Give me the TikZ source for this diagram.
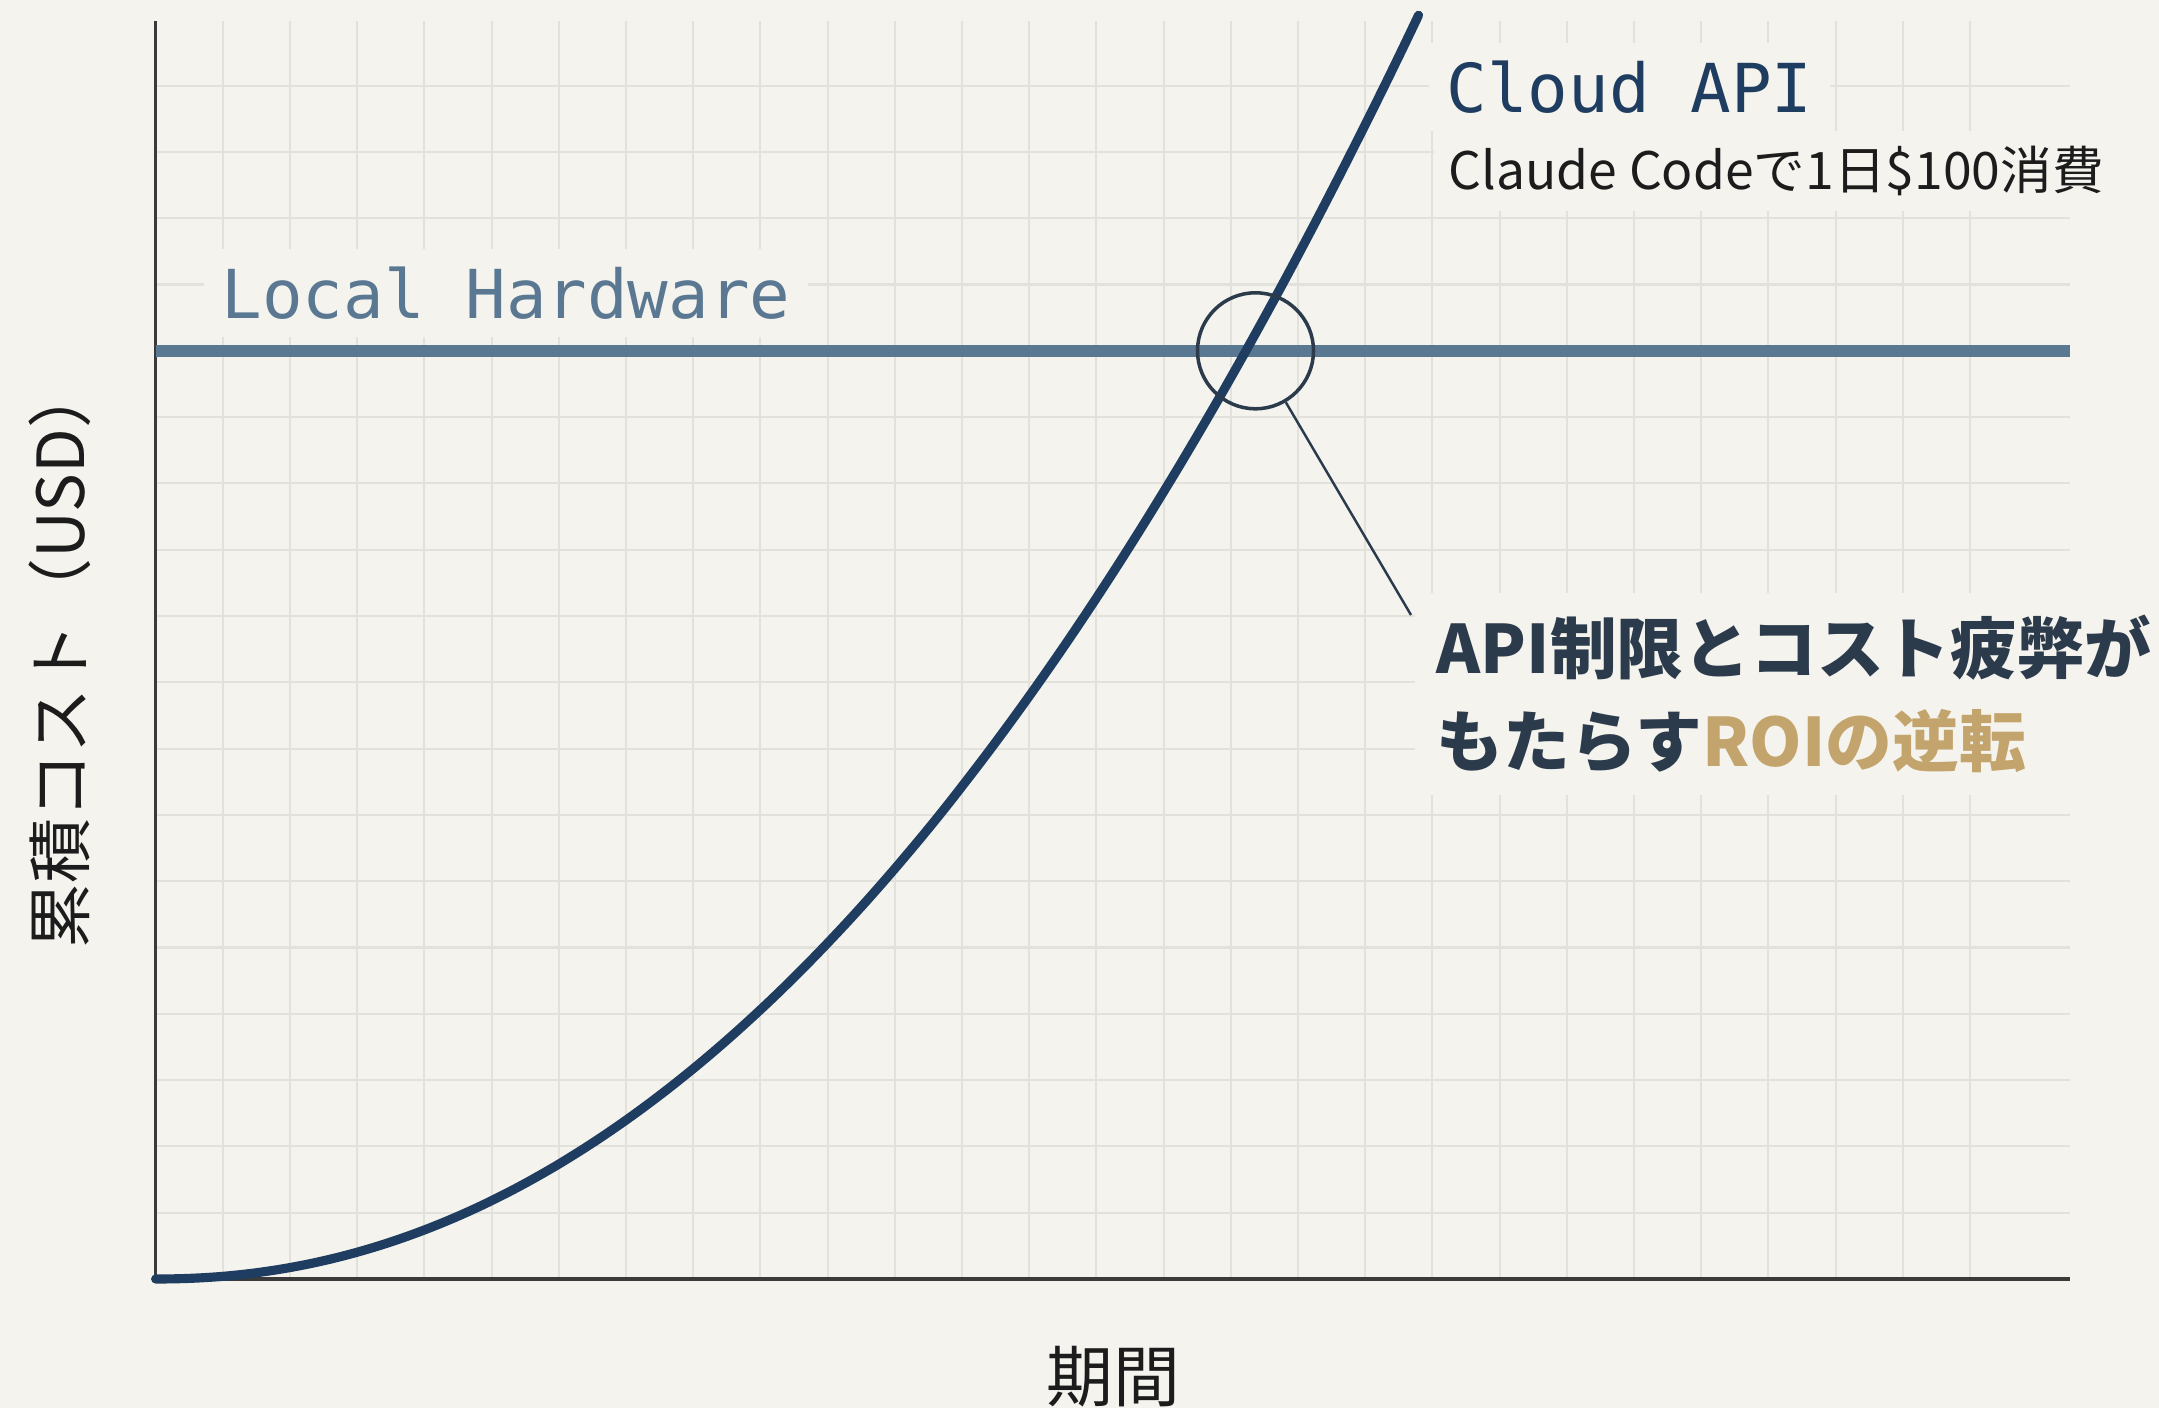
\documentclass[tikz,border=0pt]{standalone}
\usepackage{fontspec}
\setmainfont{Noto Sans CJK JP}
\newfontfamily\monofont{DejaVu Sans Mono}
\usepackage{xcolor}
\usetikzlibrary{positioning,calc}

\definecolor{paper}{HTML}{F4F3EE}
\definecolor{gridc}{HTML}{E3E1DB}
\definecolor{axisc}{HTML}{3A3A3A}
\definecolor{hwblue}{HTML}{5A7892}
\definecolor{cloudblue}{HTML}{1F3D60}
\definecolor{slate}{HTML}{2C3B4C}
\definecolor{gold}{HTML}{C3A46C}
\definecolor{ink}{HTML}{1C1C1C}

\begin{document}
\begin{tikzpicture}[
    gridline/.style={gridc, line width=0.6pt},
    axisline/.style={axisc, line width=1pt},
    hwline/.style={hwblue, line width=3.3pt},
    cloudline/.style={cloudblue, line width=2.6pt, line cap=round},
    monolabel/.style={font=\monofont\fontsize{19.2}{22}\selectfont, fill=paper, inner sep=0.18cm, anchor=west},
    sublabel/.style={font=\fontsize{14.7}{18}\selectfont, text=ink, fill=paper, inner sep=0.15cm, anchor=west},
    axislabel/.style={font=\fontsize{18.5}{21}\selectfont, text=ink}
]

% Canvas
\fill[paper] (0,0) rectangle (21.59,14.08);
\useasboundingbox (0,0) rectangle (21.59,14.08);

% Grid and axes
\coordinate (origin) at (1.556,1.29);
\begin{scope}[shift={(origin)}]
  \foreach \i in {1,...,27}
    \draw[gridline] (\i*0.672,0) -- (\i*0.672,12.58);
  \foreach \j in {1,...,18}
    \draw[gridline] (0,\j*0.663) -- (19.14,\j*0.663);
  \coordinate (xend) at (19.14,0);
  \coordinate (ytop) at (0,12.58);
  \coordinate (hwleft) at (0,9.282);
  \coordinate (hwright) at (19.14,9.282);
\end{scope}
\draw[axisline] (ytop) -- (origin) -- (xend);

% Labels
\node[monolabel, text=hwblue] (hwlbl) at (2.03,11.15) {Local Hardware};
\node[monolabel, text=cloudblue] (cloudlbl) at (14.28,13.21) {Cloud API};
\node[sublabel] (cloudsub) at (14.33,12.37) {Claude Codeで1日\$100消費};

% Cost lines
\draw[hwline] (hwleft) -- (hwright);
\begin{scope}[shift={(origin)}]
  \draw[cloudline] (0,0) -- plot[domain=0.02:12.63, samples=90, smooth] (\x,{0.0615*pow(\x,2.1)});
\end{scope}

% Crossover
\node[circle, draw=slate, line width=1pt, minimum size=1.16cm, inner sep=0] (cross) at (12.555,10.572) {};
\node[font=\bfseries\fontsize{19}{26.7}\selectfont, text=slate, fill=paper, align=left, inner sep=0.22cm, anchor=west] (roi) at (14.14,7.14)
  {API制限とコスト疲弊が\\もたらす\textcolor{gold}{ROIの逆転}};
\coordinate (leadend) at (14.11,7.93);
\draw[slate, line width=0.7pt] (cross) -- (leadend);

% Axis titles
\node[axislabel, rotate=90] (ylbl) at (0.6,7.52) {累積コスト（USD）};
\node[axislabel, font=\fontsize{19}{21}\selectfont] (xlbl) at (11.13,0.31) {期間};

\end{tikzpicture}
\end{document}
